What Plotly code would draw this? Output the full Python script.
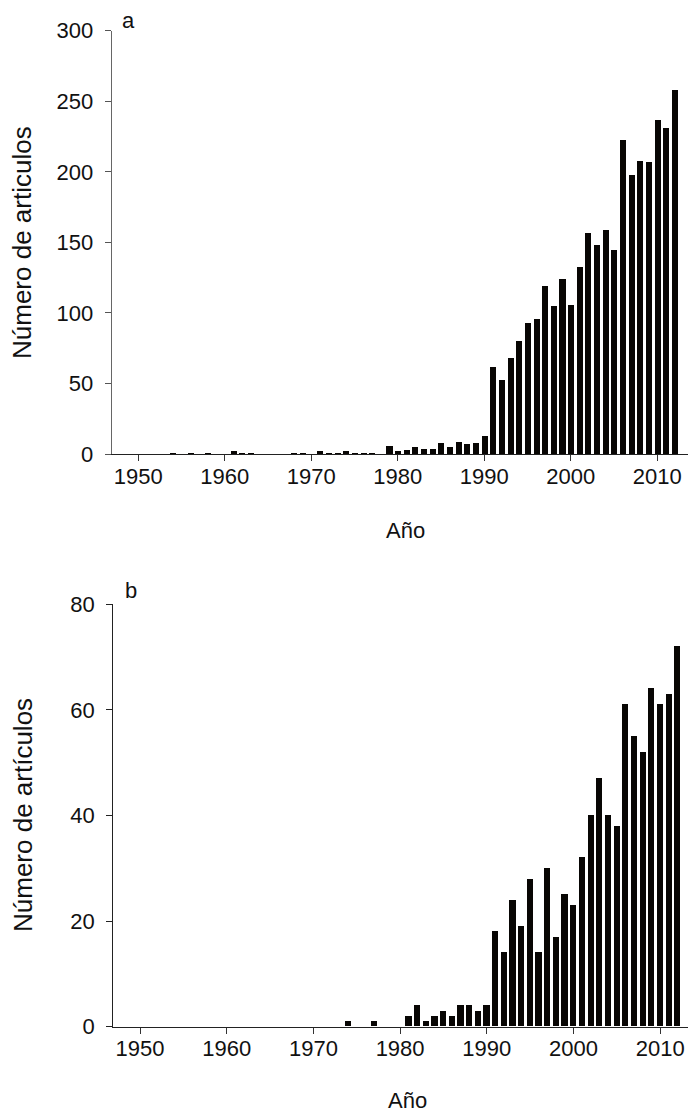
import plotly.graph_objects as go

years = list(range(1950, 2013))

articles_a = [0, 0, 0, 0, 1, 0, 1, 0, 1, 0,
              0, 2, 1, 1, 0, 0, 0, 0, 1, 1,
              0, 2, 1, 1, 2, 1, 1, 1, 0, 6,
              2, 3, 5, 4, 4, 8, 5, 9, 7, 8,
              13, 62, 53, 68, 80, 93, 96, 119, 105, 124,
              106, 133, 157, 148, 159, 145, 223, 198, 208, 207,
              237, 231, 258]

articles_b = [0, 0, 0, 0, 0, 0, 0, 0, 0, 0,
              0, 0, 0, 0, 0, 0, 0, 0, 0, 0,
              0, 0, 0, 0, 1, 0, 0, 1, 0, 0,
              0, 2, 4, 1, 2, 3, 2, 4, 4, 3,
              4, 18, 14, 24, 19, 28, 14, 30, 17, 25,
              23, 32, 40, 47, 40, 38, 61, 55, 52, 64,
              61, 63, 72]

x_ticks = [1950, 1960, 1970, 1980, 1990, 2000, 2010]
y_ticks_a = [0, 50, 100, 150, 200, 250, 300]
y_ticks_b = [0, 20, 40, 60, 80]

# page body has an 8px margin, so the figure is offset by (8, 8) in the window
OFF = 8
W, H = 696 - OFF, 1113 - OFF
FONT = "Liberation Sans, Arial, sans-serif"
BAR = "#080604"

fig = go.Figure()
fig.add_trace(go.Bar(x=years, y=articles_a, width=0.7, marker=dict(color=BAR, line=dict(width=0)),
                     xaxis="x", yaxis="y", showlegend=False))
fig.add_trace(go.Bar(x=years, y=articles_b, width=0.7, marker=dict(color=BAR, line=dict(width=0)),
                     xaxis="x2", yaxis="y2", showlegend=False))

def px_x(p):
    return (p - OFF) / W

def px_y(p):
    return 1 - (p - OFF) / H

common_x = dict(tickmode="array", tickvals=x_ticks, ticks="outside", ticklen=6, tickwidth=1,
                showline=True, linewidth=1.3, showgrid=False, zeroline=False, automargin=False,
                ticklabelstandoff=-4,
                tickfont=dict(family=FONT, size=22, color="#111"))
common_y = dict(ticks="outside", ticklen=6, tickwidth=1, showline=True, linewidth=1.3,
                showgrid=False, zeroline=False, ticklabelstandoff=7, automargin=False,
                tickfont=dict(family=FONT, size=22, color="#111"))

fig.update_layout(
    width=W, height=H,
    margin=dict(l=0, r=0, t=0, b=0, autoexpand=False),
    paper_bgcolor="white", plot_bgcolor="white",
    bargap=0,
    font=dict(family=FONT, size=22, color="#111"),
    xaxis=dict(domain=[px_x(111.7), 1], range=[1946.92, 2014.47], anchor="y",
               linecolor="#222", tickcolor="#333", **common_x),
    yaxis=dict(domain=[px_y(454), px_y(30.7)], range=[0, 300], anchor="x",
               tickvals=y_ticks_a, linecolor="#666", tickcolor="#555", **common_y),
    xaxis2=dict(domain=[px_x(113.3), 1], range=[1946.92, 2014.13], anchor="y2",
                linecolor="#222", tickcolor="#333", **common_x),
    yaxis2=dict(domain=[px_y(1026.7), px_y(604.3)], range=[0, 80], anchor="x2",
                tickvals=y_ticks_b, linecolor="#222", tickcolor="#222", **common_y),
)

annotations = [
    dict(text="a", x=px_x(128), y=px_y(21), size=22),
    dict(text="b", x=px_x(131), y=px_y(590), size=22),
    dict(text="Año", x=px_x(405), y=px_y(530), size=22),
    dict(text="Año", x=px_x(407), y=px_y(1100), size=22),
    dict(text="Número de articulos", x=px_x(22), y=px_y(243), size=26, textangle=-90),
    dict(text="Número de artículos", x=px_x(23), y=px_y(815), size=26, textangle=-90),
]
for a in annotations:
    size = a.pop("size")
    fig.add_annotation(xref="paper", yref="paper", showarrow=False,
                       xanchor="center", yanchor="middle",
                       font=dict(family=FONT, size=size, color="#111"), **a)

fig.write_html("out.html")
